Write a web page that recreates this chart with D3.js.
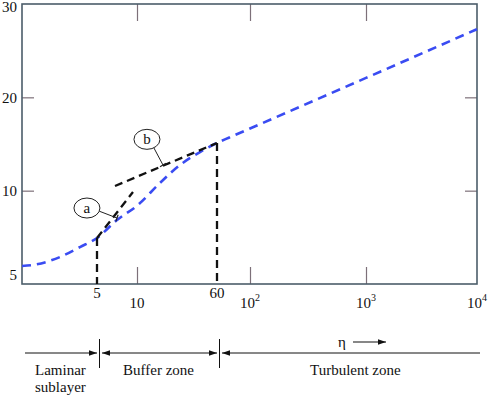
<!DOCTYPE html>
<html>
<head>
<meta charset="utf-8">
<script src="https://cdn.jsdelivr.net/npm/d3@7"></script>
<style>
  body { margin: 0; background: #fff; }
  text { font-family: "Liberation Serif", "Times New Roman", serif; fill: #111; }
</style>
</head>
<body>
<svg id="chart" width="493" height="395"></svg>
<script>
// velocity profile u+ vs y+
const yPlus = [1, 1.27, 2.26, 3.47, 5, 7.07, 10.2, 16.7, 26.2, 41, 60, 79.3, 100, 1000, 10000];
const uPlus = [1.93, 2.04, 2.89, 3.96, 4.93, 6.86, 8.46, 10.82, 12.75, 14.14, 15.11, 15.96, 16.66, 22.08, 27.3];

// black dashed construction lines, as [y+, u+] pairs
const lineA = [[5, 4.93], [9.33, 9.86]];
const lineB = [[6.83, 10.5], [60, 15.11]];
const dropLines = [[[5, 4.93], [5, 0]], [[60, 15.11], [60, 0]]];

// circled labels: label position and where the leader points
const callouts = [
  {name: "a", at: [4.03, 8.14], to: [7.07, 7.07]},
  {name: "b", at: [12.5, 15.5], to: [17.9, 12.75]}
];

const xTicks = [10, 100, 1000];
const xLabelsLow = [[10, "10", ""], [100, "10", "2"], [1000, "10", "3"], [10000, "10", "4"]];
const xLabelsHigh = [[5, "5"], [60, "60"]];
const yTicks = [10, 20];
const yLabels = [[1, "5"], [10, "10"], [20, "20"], [29.7, "30"]];

const zoneBounds = [5, 60];
const zoneNames = [["Laminar", "sublayer"], ["Buffer zone"], ["Turbulent zone"]];

const svg = d3.select("#chart");
const pLeft = 22, pRight = 477, pTop = 4, pBottom = 284;

// the original axis is hand drawn, so the log scale is pinned at its labelled marks
const x = d3.scaleLog()
  .domain([1, 5, 10, 60, 100, 1000, 10000])
  .range([pLeft, 97, 137, 217, 250, 366, pRight]);
const y = d3.scaleLinear().domain([0, 30]).range([pBottom, pTop]);

const tickColor = "#7d7079";

function styleAxis(g) {
  g.select(".domain").remove();
  g.selectAll(".tick line").attr("stroke", tickColor).attr("stroke-width", 1.2);
  g.selectAll(".tick text").remove();
}

svg.append("g").attr("transform", `translate(0,${pBottom})`)
  .call(d3.axisBottom(x).tickValues(xTicks).tickSize(-17)).call(styleAxis);
svg.append("g").attr("transform", `translate(0,${pTop})`)
  .call(d3.axisTop(x).tickValues(xTicks).tickSize(-17)).call(styleAxis);
svg.append("g").attr("transform", `translate(${pLeft},0)`)
  .call(d3.axisLeft(y).tickValues(yTicks).tickSize(-12)).call(styleAxis);
svg.append("g").attr("transform", `translate(${pRight},0)`)
  .call(d3.axisRight(y).tickValues(yTicks).tickSize(-12)).call(styleAxis);

// frame
svg.append("rect")
  .attr("x", pLeft).attr("y", pTop)
  .attr("width", pRight - pLeft).attr("height", pBottom - pTop)
  .attr("fill", "none").attr("stroke", "#4b5d6a").attr("stroke-width", 1.6);

// tick labels
svg.selectAll(".ylab").data(yLabels).join("text")
  .attr("class", "ylab")
  .attr("x", pLeft - 5).attr("y", d => y(d[0]))
  .attr("dy", "0.35em").attr("text-anchor", "end")
  .style("font-size", "15px")
  .text(d => d[1]);

svg.selectAll(".xlabH").data(xLabelsHigh).join("text")
  .attr("class", "xlabH")
  .attr("x", d => x(d[0])).attr("y", pBottom + 14)
  .attr("text-anchor", "middle").style("font-size", "15px")
  .text(d => d[1]);

const low = svg.selectAll(".xlabL").data(xLabelsLow).join("text")
  .attr("class", "xlabL")
  .attr("x", d => x(d[0])).attr("y", pBottom + 24)
  .attr("text-anchor", "middle").style("font-size", "15px");
low.append("tspan").text(d => d[1]);
low.append("tspan").attr("dy", -7).style("font-size", "10px").text(d => d[2]);

// blue profile
const line = d3.line().x(d => x(d[0])).y(d => y(d[1])).curve(d3.curveMonotoneX);
svg.append("path")
  .datum(yPlus.map((v, i) => [v, uPlus[i]]))
  .attr("d", line)
  .attr("fill", "none").attr("stroke", "#3a4cf2")
  .attr("stroke-width", 2.6).attr("stroke-dasharray", "9,6");

// black dashed lines
const straight = d3.line().x(d => x(d[0])).y(d => y(d[1]));
svg.selectAll(".blk").data([lineA, lineB, ...dropLines]).join("path")
  .attr("class", "blk")
  .attr("d", straight)
  .attr("fill", "none").attr("stroke", "#111")
  .attr("stroke-width", 2.3).attr("stroke-dasharray", "8,5");

// callouts
const rx = 13, ry = 10;
callouts.forEach(c => {
  const cx = x(c.at[0]), cy = y(c.at[1]);
  const px = x(c.to[0]), py = y(c.to[1]);
  const ang = Math.atan2(py - cy, px - cx);
  const sx = cx + rx * Math.cos(ang), sy = cy + ry * Math.sin(ang);
  svg.append("line")
    .attr("x1", sx).attr("y1", sy).attr("x2", px).attr("y2", py)
    .attr("stroke", "#222").attr("stroke-width", 1);
  // small cross bar at the pointer end
  const nx = -Math.sin(ang) * 3.5, ny = Math.cos(ang) * 3.5;
  svg.append("line")
    .attr("x1", px - nx).attr("y1", py - ny).attr("x2", px + nx).attr("y2", py + ny)
    .attr("stroke", "#222").attr("stroke-width", 1.2);
  svg.append("ellipse")
    .attr("cx", cx).attr("cy", cy).attr("rx", rx).attr("ry", ry)
    .attr("fill", "#fff").attr("stroke", "#222").attr("stroke-width", 1);
  svg.append("text")
    .attr("x", cx).attr("y", cy).attr("dy", "0.32em")
    .attr("text-anchor", "middle").style("font-size", "15px")
    .text(c.name);
});

// zone annotation below the chart
const zy = 353;
const defs = svg.append("defs");
defs.append("marker").attr("id", "arr")
  .attr("viewBox", "0 0 10 10").attr("refX", 10).attr("refY", 5)
  .attr("markerWidth", 8).attr("markerHeight", 8).attr("markerUnits", "userSpaceOnUse")
  .attr("orient", "auto-start-reverse")
  .append("path").attr("d", "M0,1.5 L10,5 L0,8.5 Z").attr("fill", "#111");

const sep = zoneBounds.map(b => x(b) + 2.5);
const segs = [[25, sep[0] - 2.5], [sep[0] + 2.5, sep[1] - 2.5], [sep[1] + 2.5, 480]];
segs.forEach((s, i) => {
  const p = svg.append("line")
    .attr("x1", s[0]).attr("y1", zy).attr("x2", s[1]).attr("y2", zy)
    .attr("stroke", "#111").attr("stroke-width", 1);
  if (i < 2) p.attr("marker-end", "url(#arr)");
  if (i > 0) p.attr("marker-start", "url(#arr)");
});
svg.selectAll(".sep").data(sep).join("line")
  .attr("class", "sep")
  .attr("x1", d => d).attr("x2", d => d).attr("y1", 339).attr("y2", 368)
  .attr("stroke", "#111").attr("stroke-width", 1);

const zoneX = [35, 123, 310];
zoneNames.forEach((lines, i) => {
  const t = svg.append("text").attr("x", zoneX[i]).attr("y", 375).style("font-size", "15px");
  lines.forEach((l, j) => {
    t.append("tspan").attr("x", zoneX[i]).attr("dy", j ? 17 : 0).text(l);
  });
});

svg.append("text").attr("x", 338).attr("y", 347).style("font-size", "15px").text("η");
svg.append("line")
  .attr("x1", 353).attr("y1", 342).attr("x2", 386).attr("y2", 342)
  .attr("stroke", "#111").attr("stroke-width", 1.2).attr("marker-end", "url(#arr)");
</script>
</body>
</html>
